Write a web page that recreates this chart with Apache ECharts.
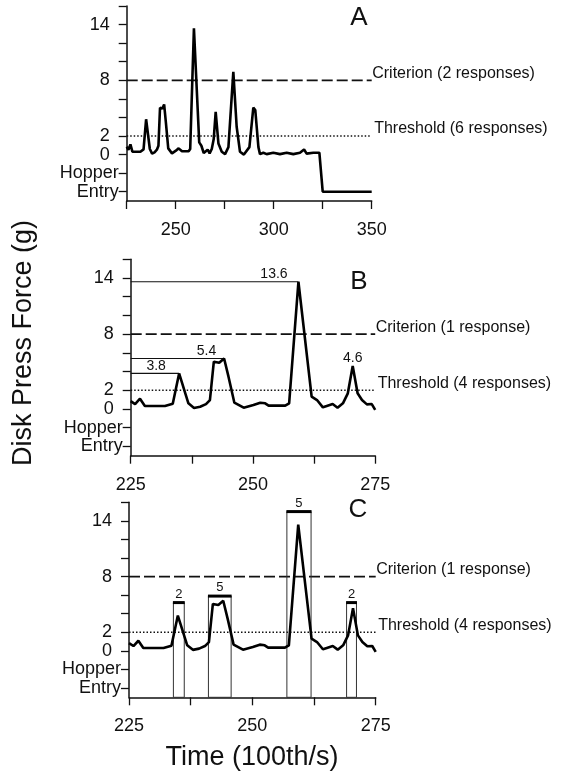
<!DOCTYPE html>
<html><head><meta charset="utf-8">
<script src="https://cdn.jsdelivr.net/npm/echarts@6/dist/echarts.min.js"></script>
<style>html,body{margin:0;padding:0;background:#fff}#c{width:565px;height:779px}</style>
</head><body><div id="c"></div>
<script>
// ---------- data ----------
const HOPPER = -2, ENTRY = -4;
const Y_MIN = -5, Y_MAX = 16;
const CRITERION = 8, THRESHOLD = 2;

// Disk press force trace (time in 100th/s, force in g), 225-275 (panels B, C and start of A)
const timeB  = [225.0,225.9,226.9,227.9,232.0,233.6,234.9,236.8,237.95,239.2,240.4,241.2,242.0,243.1,244.1,245.0,246.2,248.1,250.1,251.5,252.5,253.2,256.6,257.4,259.3,262.0,263.1,264.3,265.1,266.3,267.3,268.4,269.4,270.4,271.4,272.3,273.3,274.3,275.0];
const forceB = [0.84,0.52,1.09,0.31,0.31,0.56,3.8,0.6,0.11,0.24,0.52,0.95,5.05,4.94,5.4,3.45,0.67,0.13,0.42,0.67,0.6,0.35,0.35,0.6,13.6,1.31,0.95,0.17,0.31,0.52,0.13,0.6,1.67,4.6,1.67,0.95,0.49,0.52,-0.1];
// Continuation of trace for panel A (after the 4.6 g peak) up to 350
const timeAExtra  = [271.8,273.5,275.2,276.9,279.4,281.1,282.8,284.8,287.6,289.6,290.6,292.2,293.0,294.7,296.4,299.8,303.2,306.6,310.0,313.4,315.5,316.8,320.2,323.3,323.7,325.0,350.0];
const forceAExtra = [1.2,0.3,0.05,0.8,8.9,3.0,0.3,0.0,0.8,5.05,4.8,0.8,0.05,0.2,0.05,0.2,0.05,0.2,0.05,0.2,0.55,0.1,0.2,0.2,0.1,ENTRY,ENTRY];

// Panel B peak reference lines and labels
const refPeakTimesB  = [234.9, 244.1, 259.3];
const refPeakValuesB = [3.8, 5.4, 13.6];
const refLabelTimesB  = [230.2, 240.5, 254.3, 270.4];
const refLabelValuesB = [3.8, 5.4, 13.6, 4.6];

// Panel C response windows
const boxStartC = [234.0, 241.1, 257.0, 269.1];
const boxEndC   = [236.2, 245.7, 261.9, 271.1];
const boxTopC   = [5.2, 5.9, 15.0, 5.2];
const boxCountC = ['2', '5', '5', '2'];

const criterionLabels = ['Criterion (2 responses)', 'Criterion (1 response)', 'Criterion (1 response)'];
const thresholdLabels = ['Threshold (6 responses)', 'Threshold (4 responses)', 'Threshold (4 responses)'];
const panelLetters = ['A', 'B', 'C'];

const yLabelValues = [ENTRY, HOPPER, 0, 2, 8, 14];
const yTickValues  = [ENTRY, HOPPER, 0, 2, 4, 6, 8, 10, 12, 14, Y_MAX];
const xRanges = [[225, 350], [225, 275], [225, 275]];
const xLabelSets = [[250, 300, 350], [225, 250, 275], [225, 250, 275]];
const xTickSets  = [[225, 250, 275, 300, 325, 350], [225, 237.5, 250, 262.5, 275], [225, 237.5, 250, 262.5, 275]];

// ---------- build ----------
const FONT = 'Liberation Sans, Arial, Helvetica, sans-serif';
const INK = '#111';
const pairs = (xs, ys) => xs.map((x, i) => [x, ys[i]]);
const traceB = pairs(timeB, forceB);
const traceA = traceB.filter(p => p[0] <= 270.4).concat(pairs(timeAExtra, forceAExtra));
const traces = [traceA, traceB, traceB];

const grids = [
  {left: 126.7, top: 6, width: 245, height: 195},
  {left: 130.7, top: 259.3, width: 244.5, height: 196.4},
  {left: 129, top: 502.3, width: 246.7, height: 195}
];

const yNames = {};
yNames[ENTRY] = 'Entry'; yNames[HOPPER] = 'Hopper';

const labelBase = {color: INK, fontFamily: FONT, opacity: 1};
const xAxes = [], yAxes = [], series = [];
for (let i = 0; i < 3; i++) {
  xAxes.push({
    type: 'value', gridIndex: i, min: xRanges[i][0], max: xRanges[i][1],
    axisLine: {onZero: false, lineStyle: {color: INK, width: 1.5}},
    axisTick: {customValues: xTickSets[i], length: 8, lineStyle: {color: INK, width: 1.3}},
    axisLabel: {customValues: xLabelSets[i], margin: 20, fontSize: 18, color: INK, fontFamily: FONT},
    splitLine: {show: false}
  });
  yAxes.push({
    type: 'value', gridIndex: i, min: Y_MIN, max: Y_MAX,
    axisLine: {onZero: false, lineStyle: {color: INK, width: 1.5}},
    axisTick: {customValues: yTickValues, length: 8, lineStyle: {color: INK, width: 1.3}},
    axisLabel: {
      customValues: yLabelValues, margin: 8, color: INK, fontFamily: FONT, fontSize: 18,
      formatter: v => (yNames[v] ? '{w|' + yNames[v] + '}' : '{n|' + v + '}'),
      rich: {
        n: {fontSize: 18, color: INK, fontFamily: FONT, padding: [0, 9, 0, 0]},
        w: {fontSize: 18, color: INK, fontFamily: FONT}
      }
    },
    splitLine: {show: false}
  });
  const xmax = xRanges[i][1], xmin = xRanges[i][0];
  series.push({
    type: 'line', xAxisIndex: i, yAxisIndex: i, data: [[xmin, CRITERION], [xmax, CRITERION]],
    symbol: 'none', silent: true, lineStyle: {color: INK, width: 1.8, type: [11, 4]}, z: 2
  });
  series.push({
    type: 'line', xAxisIndex: i, yAxisIndex: i, data: [[xmin, THRESHOLD], [xmax, THRESHOLD]],
    symbol: 'none', silent: true, lineStyle: {color: INK, width: 1.5, type: [1.5, 2]}, z: 2
  });
  series.push({
    type: 'line', xAxisIndex: i, yAxisIndex: i, data: traces[i],
    symbol: 'none', silent: true, lineStyle: {color: '#000', width: 2.6}, z: 5
  });
  series.push({
    type: 'scatter', xAxisIndex: i, yAxisIndex: i, symbolSize: 1, silent: true,
    itemStyle: {color: 'rgba(0,0,0,0)', opacity: 1},
    data: [
      {value: [xmax, CRITERION], label: Object.assign({show: true, position: 'right', distance: 0, offset: [0, -7], formatter: criterionLabels[i], fontSize: 16}, labelBase)},
      {value: [xmax, THRESHOLD], label: Object.assign({show: true, position: 'right', distance: 2, offset: [0, -7], formatter: thresholdLabels[i], fontSize: 16}, labelBase)}
    ]
  });
}

// Panel B reference lines
refPeakTimesB.forEach((t, k) => {
  series.push({
    type: 'line', xAxisIndex: 1, yAxisIndex: 1, data: [[225, refPeakValuesB[k]], [t, refPeakValuesB[k]]],
    symbol: 'none', silent: true, lineStyle: {color: '#111', width: 1.1}, z: 3
  });
});
series.push({
  type: 'scatter', xAxisIndex: 1, yAxisIndex: 1, symbolSize: 1, silent: true,
  itemStyle: {color: 'rgba(0,0,0,0)', opacity: 1},
  data: refLabelTimesB.map((t, k) => [t, refLabelValuesB[k]]),
  label: Object.assign({show: true, position: 'top', distance: 0, fontSize: 14,
    formatter: p => p.value[1].toFixed(1)}, labelBase)
});

// Panel C response windows
series.push({
  type: 'custom', xAxisIndex: 2, yAxisIndex: 2, silent: true, z: 4,
  data: boxStartC.map((s, k) => [s, boxEndC[k], boxTopC[k], k]),
  renderItem: (params, api) => {
    const p1 = api.coord([api.value(0), api.value(2)]);
    const p2 = api.coord([api.value(1), Y_MIN]);
    const k = api.value(3);
    return {
      type: 'group',
      children: [
        {type: 'rect', shape: {x: p1[0], y: p1[1], width: p2[0] - p1[0], height: p2[1] - p1[1]},
          style: {fill: 'none', stroke: '#333', lineWidth: 1}},
        {type: 'line', shape: {x1: p1[0] - 0.5, y1: p1[1], x2: p2[0] + 0.5, y2: p1[1]},
          style: {stroke: '#000', lineWidth: 3}},
        {type: 'text', style: {text: boxCountC[k], x: (p1[0] + p2[0]) / 2, y: p1[1] - 2,
          align: 'center', verticalAlign: 'bottom', font: '13px ' + FONT, fill: INK}}
      ]
    };
  }
});

const letterPos = [[359, 18], [359, 282], [358, 510]];
const graphic = [
  {type: 'text', x: 24, y: 343, rotation: Math.PI / 2,
    style: {text: 'Disk Press Force (g)', font: '27px ' + FONT, fill: INK, align: 'center', verticalAlign: 'middle'}},
  {type: 'text', x: 252, y: 758,
    style: {text: 'Time (100th/s)', font: '27px ' + FONT, fill: INK, align: 'center', verticalAlign: 'middle'}}
].concat(panelLetters.map((L, i) => ({
  type: 'text', x: letterPos[i][0], y: letterPos[i][1],
  style: {text: L, font: '26px ' + FONT, fill: INK, align: 'center', verticalAlign: 'middle'}
})));

const chart = echarts.init(document.getElementById('c'), null, {renderer: 'canvas'});
chart.setOption({
  animation: false,
  backgroundColor: '#fff',
  textStyle: {fontFamily: FONT},
  grid: grids,
  xAxis: xAxes,
  yAxis: yAxes,
  series: series,
  graphic: graphic
});
</script></body></html>
